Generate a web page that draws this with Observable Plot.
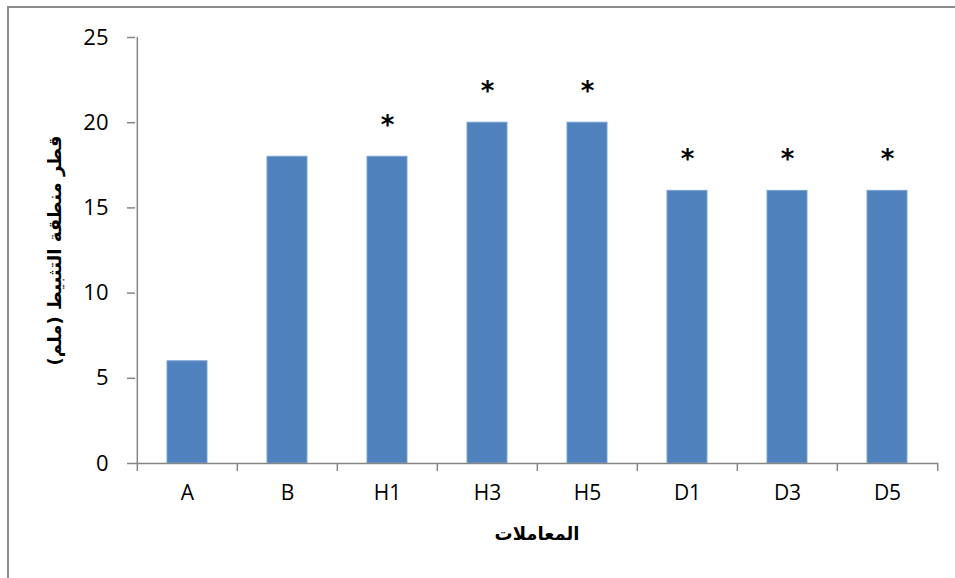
<!DOCTYPE html>
<html>
<head>
<meta charset="utf-8">
<script src="https://cdn.jsdelivr.net/npm/d3@7"></script>
<script src="https://cdn.jsdelivr.net/npm/@observablehq/plot@0.6"></script>
<style>
  html, body { margin: 0; padding: 0; background: #fff; }
  #wrap { position: relative; width: 955px; height: 578px; overflow: hidden; }
  #border { position: absolute; left: 7px; top: 6px; width: 960px; height: 600px;
            border-left: 2px solid #8c8c8c; border-top: 2px solid #8c8c8c; box-sizing: border-box; }
  #chart { position: absolute; left: 0; top: 0; }
</style>
</head>
<body>
<div id="wrap"><div id="border"></div><div id="chart"></div></div>
<script>
const categories = ["A", "B", "H1", "H3", "H5", "D1", "D3", "D5"];
const values = [6, 18, 18, 20, 20, 16, 16, 16];
const marks = ["", "", "*", "*", "*", "*", "*", "*"];
const yTicks = [0, 5, 10, 15, 20, 25];
const xTitle = "المعاملات";
const yTitle = "قطر منطقة التثبيط (ملم)\u200F";

const data = categories.map((c, i) => ({cat: c, value: values[i], mark: marks[i]}));

const W = 955, H = 578;
const mL = 135, mR = 17, mT = 37, mB = 115;
const bw = (W - mL - mR) / categories.length;
const axisColor = "#868686";
const numFont = "'Open Sans', sans-serif";
const arFont = "'DejaVu Sans', sans-serif";

const chart = Plot.plot({
  width: W,
  height: H,
  marginLeft: mL,
  marginRight: mR,
  marginTop: mT,
  marginBottom: mB,
  style: {fontFamily: numFont, fontSize: "21px", color: "#000", background: "transparent"},
  x: {domain: categories, padding: 0, label: null},
  y: {domain: [0, 25], label: null},
  marks: [
    Plot.barY(data, {x: "cat", y: "value", fill: "#4F81BD", stroke: "#7BA3D6", strokeWidth: 1, insetLeft: 30, insetRight: 30}),
    Plot.ruleY([0], {stroke: axisColor, strokeWidth: 1.5}),
    Plot.ruleX([categories[0]], {x: d => d, y1: 0, y2: 25, dx: -bw / 2, stroke: axisColor, strokeWidth: 1.5}),
    Plot.ruleX(categories, {x: d => d, y1: 0, y2: -8 * 25 / (H - mT - mB), dx: -bw / 2, stroke: axisColor, strokeWidth: 1.5}),
    Plot.ruleX([categories[categories.length - 1]], {x: d => d, y1: 0, y2: -8 * 25 / (H - mT - mB), dx: bw / 2, stroke: axisColor, strokeWidth: 1.5}),
    Plot.axisY({ticks: yTicks, tickSize: 8, tickPadding: 19, stroke: axisColor, strokeWidth: 1.5, fontSize: 22, label: null}),
    Plot.axisX({tickSize: 0, tickPadding: 22, fontSize: 21, label: null}),
    Plot.text(data.filter(d => d.mark), {x: "cat", y: "value", text: "mark", dy: -31, fontSize: 26, fontFamily: "'DejaVu Sans', sans-serif", fontWeight: "bold", fill: "#000"}),
    Plot.text([xTitle], {frameAnchor: "bottom", textAnchor: "middle", dy: 76, fontFamily: arFont, fontWeight: "bold", fontSize: 18, fill: "#000"}),
    Plot.text([yTitle], {frameAnchor: "left", textAnchor: "middle", dx: -80, rotate: -90, fontFamily: arFont, fontWeight: "bold", fontSize: 18, fill: "#000"})
  ]
});
document.getElementById("chart").appendChild(chart);
</script>
</body>
</html>
